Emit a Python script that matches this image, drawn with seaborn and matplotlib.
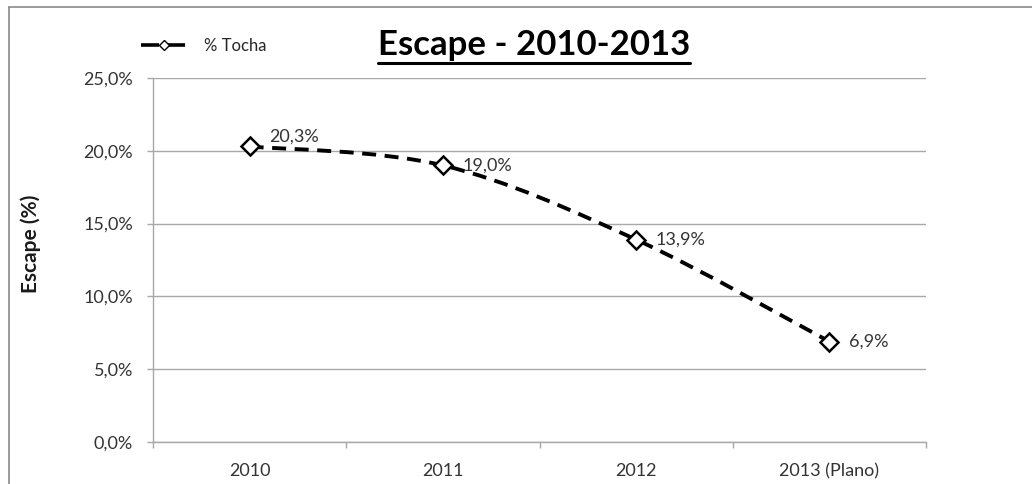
import matplotlib
matplotlib.use("Agg")
import matplotlib.pyplot as plt
import seaborn as sns
import numpy as np
import pandas as pd
from matplotlib.path import Path
from matplotlib.patches import PathPatch
from matplotlib.lines import Line2D
from matplotlib.ticker import FuncFormatter, FixedLocator

# ---- data ----
categories = ["2010", "2011", "2012", "2013 (Plano)"]
values = [20.3, 19.0, 13.9, 6.9]
series_name = "% Tocha"
title = "Escape - 2010-2013"
y_label = "Escape (%)"
y_ticks = [0, 5, 10, 15, 20, 25]

sns.set_theme(style="white")
plt.rcParams["font.family"] = ["Lato", "DejaVu Sans"]

W, H = 1032, 484
fig = plt.figure(figsize=(W / 100, H / 100), dpi=100)
fig.patch.set_facecolor("white")
fig.patch.set_edgecolor("none")
fig.patch.set_linewidth(0)

# outer frame (only left and top edges are visible in the crop)
frame_c = "#8a8a8a"
fig.add_artist(Line2D([8.5 / W, 8.5 / W], [0, 1 - 6.5 / H], transform=fig.transFigure,
                      color=frame_c, lw=1.2))
fig.add_artist(Line2D([8.5 / W, 1.0], [1 - 6.5 / H, 1 - 6.5 / H], transform=fig.transFigure,
                      color=frame_c, lw=1.2))

ax = fig.add_axes([153 / W, (H - 442) / H, (926 - 153) / W, (442 - 78) / H])

df = pd.DataFrame({"cat": categories, "val": values})
sns.lineplot(data=df, x="cat", y="val", ax=ax, marker="D", linestyle="none",
             markersize=8.8, markerfacecolor="white", markeredgecolor="black",
             markeredgewidth=1.8, color="black", zorder=4)

# smoothed dashed line (cubic Bezier through the data points)
xs = np.arange(len(values), dtype=float)
ys = np.asarray(values, dtype=float)
pts = np.column_stack([xs, ys])
ext = np.vstack([pts[0], pts, pts[-1]])
verts = [tuple(pts[0])]
codes = [Path.MOVETO]
for i in range(len(pts) - 1):
    p0, p1, p2, p3 = ext[i], ext[i + 1], ext[i + 2], ext[i + 3]
    c1 = p1 + (p2 - p0) / 6.0
    c2 = p2 - (p3 - p1) / 6.0
    verts += [tuple(c1), tuple(c2), tuple(p2)]
    codes += [Path.CURVE4] * 3
ax.add_patch(PathPatch(Path(verts, codes), facecolor="none", edgecolor="black",
                       lw=2.8, linestyle=(0, (3.6, 2.2)), zorder=3,
                       capstyle="butt"))

# data labels
label_dy = [7, 0, 0, 0]
for i, v in enumerate(values):
    ax.annotate(f"{v:.1f}%".replace(".", ","), (i, v), xytext=(14, label_dy[i]),
                textcoords="offset points", ha="left", va="center",
                fontsize=13, color="#333333", zorder=5)

ax.set_xlim(-0.5, len(categories) - 0.5)
ax.set_ylim(0, 25)
ax.yaxis.set_major_locator(FixedLocator(y_ticks))
ax.yaxis.set_major_formatter(FuncFormatter(lambda v, p: f"{v:.1f}%".replace(".", ",")))
ax.set_xticks(range(len(categories)))
ax.set_xticklabels(categories)
ax.set_xticks(np.arange(-0.5, len(categories), 1.0), minor=True)

grid_c = "#a8a8a8"
ax.grid(axis="y", color=grid_c, lw=1.0)
ax.grid(axis="x", visible=False)
for s in ["top", "right"]:
    ax.spines[s].set_visible(False)
for s in ["left", "bottom"]:
    ax.spines[s].set_color(grid_c)
    ax.spines[s].set_linewidth(1.0)

ax.tick_params(axis="y", which="major", left=True, length=4.5, width=1,
               color=grid_c, pad=10, labelsize=13, labelcolor="#333333")
ax.tick_params(axis="x", which="major", bottom=False, length=0, pad=15,
               labelsize=13, labelcolor="#333333")
ax.tick_params(axis="x", which="minor", bottom=True, length=4.5, width=1,
               color=grid_c)

ax.set_xlabel("")
ax.set_ylabel(y_label, fontsize=15, fontweight="bold", color="#1a1a1a")
ax.yaxis.set_label_coords(41 / W, 1 - 244 / H, transform=fig.transFigure)

# title with underline
t = fig.text(534 / W, 1 - 55 / H, title, ha="center", va="baseline",
             fontsize=25, fontweight="bold", color="black")
fig.canvas.draw()
bb = t.get_window_extent(fig.canvas.get_renderer())
uy = (H - 62.5) / H
fig.add_artist(Line2D([bb.x0 / W, bb.x1 / W], [uy, uy], transform=fig.transFigure,
                      color="black", lw=2.2))

# legend
handle = Line2D([], [], color="black", lw=2.6, linestyle=(0, (5, 2.2)), marker="D",
                markersize=5.5, markerfacecolor="white", markeredgecolor="black",
                markeredgewidth=1.0)
fig.legend([handle], [series_name], loc="center left",
           bbox_to_anchor=(141 / W, 1 - 46 / H), frameon=False, fontsize=12,
           handlelength=2.75, handletextpad=1.05, borderpad=0, borderaxespad=0,
           labelcolor="#262626")

fig.savefig("out.png", dpi=100, facecolor="white", edgecolor="none")
